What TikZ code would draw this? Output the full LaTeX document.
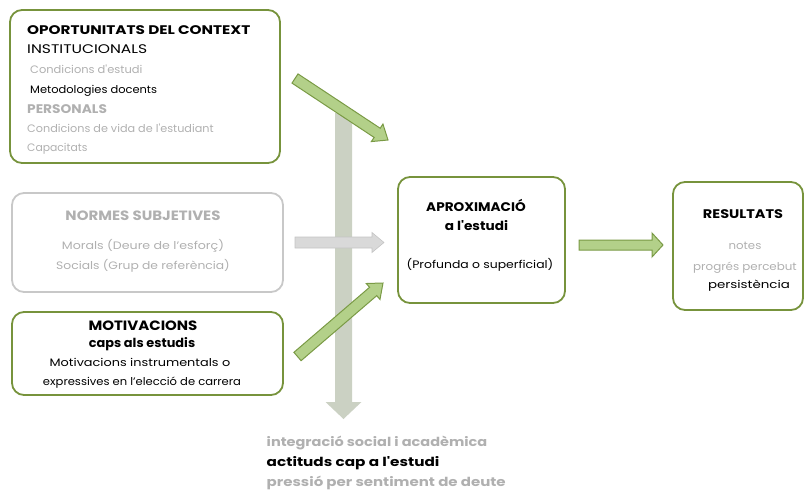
\documentclass[tikz,border=0pt]{standalone}
\usepackage{fontspec}
\setmainfont{Poppins}[Ligatures=TeXOff]
\usetikzlibrary{calc}
\definecolor{boxgreen}{HTML}{77933C}
\definecolor{boxgray}{HTML}{C8C8C8}
\definecolor{txtgray}{HTML}{B0B0B0}
\definecolor{arrgreenfill}{HTML}{B3D089}
\definecolor{arrgreenline}{HTML}{7A9A45}
\definecolor{arrgrayfill}{HTML}{D9D9D9}
\definecolor{arrgrayline}{HTML}{C4C4C4}
\definecolor{vertfill}{HTML}{CBD1C3}
\newcommand\blockarrow[6]{%
  \coordinate (#2#3h) at ($(#3)!#6!(#2)$);
  \draw[#1] ($(#2)!#4!90:(#3)$) -- ($(#2#3h)!#4!90:(#3)$) -- ($(#2#3h)!#5!90:(#3)$) -- (#3)
    -- ($(#2#3h)!#5!-90:(#3)$) -- ($(#2#3h)!#4!-90:(#3)$) -- ($(#2)!#4!-90:(#3)$) -- cycle;}
\tikzset{
  greenbox/.style={draw=boxgreen, line width=1.8pt, rounded corners=12pt},
  graybox/.style={draw=boxgray, line width=1.8pt, rounded corners=12pt},
  txt/.style={inner sep=0pt, anchor=base west},
  ctxt/.style={inner sep=0pt, anchor=base},
  head/.style={font=\fontsize{12.5}{14}\selectfont\bfseries},
  bighead/.style={font=\fontsize{13.5}{15}\selectfont\bfseries},
  sub/.style={font=\fontsize{12.5}{14}\selectfont},
  small/.style={font=\fontsize{10.8}{12}\selectfont},
  greenarrow/.style={fill=arrgreenfill, draw=arrgreenline, line width=1pt, line join=miter},
  grayarrow/.style={fill=arrgrayfill, draw=arrgrayline, line width=0.6pt},
  vertarrow/.style={fill=vertfill, draw=none},
  bottomtxt/.style={inner sep=0pt, anchor=base west, font=\fontsize{12.5}{14}\selectfont\bfseries},
}
\begin{document}
\begin{tikzpicture}[x=1pt, y=-1pt]
\useasboundingbox (0,0) rectangle (804,490);
% vertical gray arrow (behind)
\coordinate (vA) at (343.5,113);
\coordinate (vB) at (343.5,419);
\blockarrow{vertarrow}{vA}{vB}{8.5pt}{18pt}{17pt}
% boxes
\draw[greenbox] (10,10) rectangle (280,163);
\draw[graybox] (12,193) rectangle (283,292);
\draw[greenbox] (12,312) rectangle (283,395);
\draw[greenbox] (398,177) rectangle (565,303);
\draw[greenbox] (673,182) rectangle (803,310);
% box 1 texts
\node[txt, head, xscale=1.22] (t1a) at (27,34) {OPORTUNITATS DEL CONTEXT};
\node[txt, sub, xscale=1.24] (t1b) at (27,53) {INSTITUCIONALS};
\node[txt, small, txtgray, xscale=1.06] (t1c) at (30,73.3) {Condicions d'estudi};
\node[txt, small, xscale=1.06] (t1d) at (30,93.3) {Metodologies docents};
\node[txt, head, txtgray, xscale=1.1] (t1e) at (27,113) {PERSONALS};
\node[txt, small, txtgray, xscale=1.04] (t1f) at (27,132.7) {Condicions de vida de l'estudiant};
\node[txt, small, txtgray] (t1g) at (27,151.7) {Capacitats};
% box 2 texts
\node[ctxt, bighead, txtgray, xscale=1.11] (t2a) at (143,220) {NORMES SUBJETIVES};
\node[ctxt, small, txtgray, xscale=1.17] (t2b) at (143,249.5) {Morals (Deure de l’esforç)};
\node[ctxt, small, txtgray, xscale=1.14] (t2c) at (143,269) {Socials (Grup de referència)};
% box 3 texts
\node[ctxt, bighead, xscale=1.11] (t3a) at (143,330) {MOTIVACIONS};
\node[ctxt, head, xscale=1.03] (t3b) at (142,347.5) {caps als estudis};
\node[ctxt, small, xscale=1.19] (t3c) at (140,366.5) {Motivacions instrumentals o};
\node[ctxt, small, xscale=1.07] (t3d) at (142,385.5) {expressives en l’elecció de carrera};
% box 4 texts
\node[ctxt, head, xscale=1.09] (t4a) at (476,211) {APROXIMACIÓ};
\node[ctxt, head, xscale=1.09] (t4b) at (476.5,230) {a l'estudi};
\node[ctxt, small, xscale=1.15] (t4c) at (480,268.5) {(Profunda o superficial)};
% box 5 texts
\node[ctxt, head, xscale=1.16] (t5a) at (743,218.3) {RESULTATS};
\node[ctxt, small, txtgray, xscale=1.09] (t5b) at (745,249) {notes};
\node[ctxt, small, txtgray, xscale=1.1] (t5c) at (745,270) {progrés percebut};
\node[ctxt, small, xscale=1.24] (t5d) at (749,288) {persistència};
% bottom texts
\node[bottomtxt, txtgray, xscale=1.16] (b1) at (266.5,446.7) {integració social i acadèmica};
\node[bottomtxt, xscale=1.22] (b2) at (266.5,466.7) {actituds cap a l'estudi};
\node[bottomtxt, txtgray, xscale=1.2] (b3) at (266.5,486.7) {pressió per sentiment de deute};
% arrows
\coordinate (gA) at (295,78.5);
\coordinate (gB) at (388,140);
\blockarrow{greenarrow}{gA}{gB}{5.5pt}{10.5pt}{13pt}
\coordinate (hA) at (295,242.5);
\coordinate (hB) at (384,242.5);
\blockarrow{grayarrow}{hA}{hB}{5.5pt}{10pt}{12pt}
\coordinate (mA) at (297.5,356.5);
\coordinate (mB) at (383,283);
\blockarrow{greenarrow}{mA}{mB}{5.5pt}{10.5pt}{13pt}
\coordinate (rA) at (579,245);
\coordinate (rB) at (663,245);
\blockarrow{greenarrow}{rA}{rB}{5pt}{12pt}{11pt}
\end{tikzpicture}
\end{document}
